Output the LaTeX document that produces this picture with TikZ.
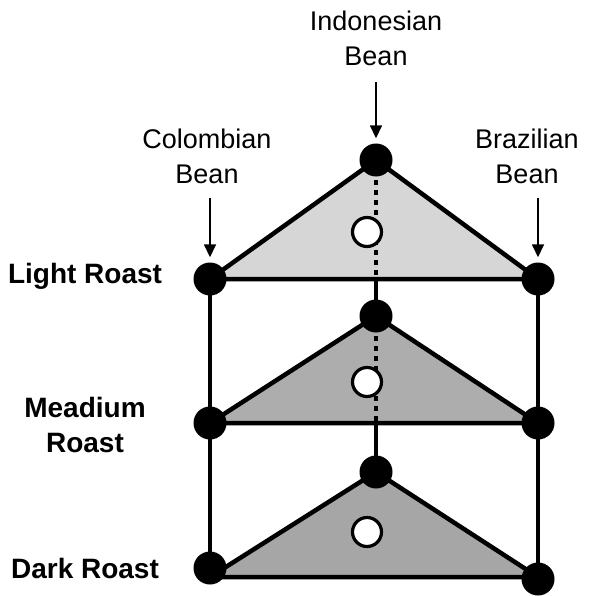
\documentclass[tikz,border=0pt]{standalone}
\usepackage{fontspec}
\setmainfont{Liberation Sans}
\usetikzlibrary{arrows.meta}
\pgfdeclarelayer{bg}
\pgfsetlayers{bg,main}
\definecolor{fillA}{HTML}{D6D6D6}
\definecolor{fillB}{HTML}{ADADAD}
\definecolor{fillC}{HTML}{A6A6A6}
\tikzset{
  dot/.style={circle, fill=black, inner sep=0pt, minimum size=33pt},
  hole/.style={circle, draw=black, fill=white, line width=3.2pt, inner sep=0pt, minimum size=29pt},
  tri/.style={draw=black, line width=4.5pt, line join=round},
  post/.style={draw=black, line width=3.3pt},
  dots/.style={draw=black, line width=4pt, dash pattern=on 5pt off 5pt},
  arr/.style={draw=black, line width=1.6pt, -{Triangle[length=13pt,width=12pt]}},
  lbl/.style={font=\fontsize{27}{35}\selectfont, align=center, inner sep=0pt},
  blbl/.style={font=\fontsize{28}{35}\selectfont\bfseries, align=center, inner sep=0pt}
}
\begin{document}
\begin{tikzpicture}[x=1pt,y=-1pt]
\useasboundingbox (0,0) rectangle (592,596);
% dots
\node[dot] (lt) at (376,160) {};
\node[dot] (ll) at (210,279) {};
\node[dot] (lr) at (538,279) {};
\node[dot] (mt) at (376,316) {};
\node[dot] (ml) at (210,423) {};
\node[dot] (mr) at (538,423) {};
\node[dot] (dt) at (376,472) {};
\node[dot] (dl) at (210,568) {};
\node[dot] (dr) at (538,579) {};
\coordinate (lb) at (376,277);
\coordinate (mb) at (376,423);
\coordinate (dbl) at (210,577);
\coordinate (dbr) at (538,577);
\begin{pgfonlayer}{bg}
\path[tri, fill=fillA] (lt.center) -- (ll.center) -- (lr.center) -- cycle;
\path[tri, fill=fillB] (mt.center) -- (ml.center) -- (mr.center) -- cycle;
\path[tri, fill=fillC] (dt.center) -- (dbl) -- (dbr) -- cycle;
\path[post] (ll.center) -- (ml.center) -- (dl.center);
\path[post] (lr.center) -- (mr.center) -- (dr.center);
\path[dots] (lt.center) -- (lb);
\path[post] (lb) -- (mt.center);
\path[dots] (mt.center) -- (mb);
\path[post] (mb) -- (dt.center);
\end{pgfonlayer}
% white circles
\node[hole] (lh) at (367,232) {};
\node[hole] (mh) at (367,382) {};
\node[hole] (dh) at (367,532) {};
% bean labels
\node[lbl, anchor=north] (indo) at (376,11) {Indonesian\\Bean};
\node[lbl, anchor=north] (colo) at (207,129) {Colombian\\Bean};
\node[lbl, anchor=north] (braz) at (527,129) {Brazilian\\Bean};
\draw[arr, shorten <=16pt, shorten >=5pt] (indo.south -| lt) -- (lt);
\draw[arr, shorten <=14pt, shorten >=5pt] (colo.south -| ll) -- (ll);
\draw[arr, shorten <=14pt, shorten >=5pt] (braz.south -| lr) -- (lr);
% roast labels
\node[blbl] (light) at (85,276) {Light Roast};
\node[blbl] (medium) at (85,425) {Meadium\\Roast};
\node[blbl] (dark) at (85,568) {Dark Roast};
\end{tikzpicture}
\end{document}
